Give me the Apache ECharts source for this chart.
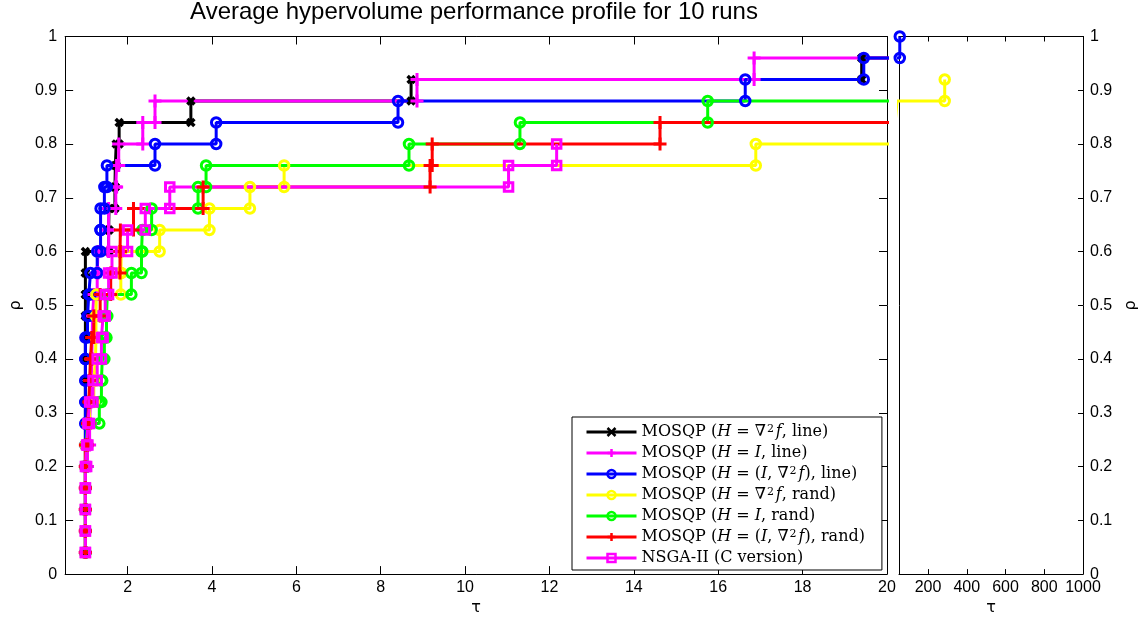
<!DOCTYPE html>
<html>
<head>
<meta charset="utf-8">
<title>Average hypervolume performance profile</title>
<script src="https://cdn.jsdelivr.net/npm/echarts@6/dist/echarts.min.js"></script>
<style>
  html, body { margin: 0; padding: 0; background: #fff; }
  #chart { width: 1142px; height: 621px; }
</style>
</head>
<body>
<div id="chart"></div>
<script>
// Number of test problems: each solved problem raises rho by 1/25.
const NP = 25;

// Sorted performance ratios tau per solver (problems never solved are left out).
// Values above 20 and below 50 fall in the gap between the two panels.
const tauHessLine = [1, 1, 1, 1, 1, 1, 1, 1, 1, 1, 1, 1, 1, 1, 1,
  1.55, 1.56, 1.70, 1.71, 1.73, 1.80, 3.50, 8.72, 19.40, 30];
const tauIdLine = [1, 1, 1, 1, 1, 1.05, 1.10, 1.12, 1.14, 1.15, 1.16, 1.17, 1.20,
  1.28, 1.30, 1.55, 1.55, 1.72, 1.74, 1.79, 2.36, 2.65, 8.86, 16.85, 30];
const tauMixLine = [1, 1, 1, 1, 1, 1, 1, 1, 1, 1, 1, 1.05, 1.08, 1.12, 1.28,
  1.36, 1.36, 1.45, 1.51, 2.65, 4.10, 8.41, 16.64, 19.45, 54];
const tauHessRand = [1, 1, 1, 1, 1, 1, 1.05, 1.10, 1.20, 1.24, 1.25, 1.25, 1.26,
  1.84, 1.85, 2.76, 3.94, 4.90, 5.71, 16.89, 30, 40, 286];
const tauIdRand = [1, 1, 1, 1, 1, 1.02, 1.05, 1.33, 1.38, 1.40, 1.45, 1.50, 1.52,
  2.09, 2.33, 2.35, 2.57, 3.67, 3.86, 8.67, 11.30, 15.75, 30];
const tauMixRand = [1, 1, 1, 1, 1, 1, 1.05, 1.08, 1.10, 1.12, 1.15, 1.20, 1.35,
  1.60, 1.82, 1.83, 2.14, 3.79, 9.17, 9.22, 14.62, 30];
const tauNsga = [1, 1, 1, 1, 1, 1.03, 1.06, 1.10, 1.18, 1.28, 1.38, 1.42, 1.47,
  1.55, 1.63, 2.00, 2.42, 3.00, 11.03, 12.17];

const solverNames = [
  'MOSQP (H=∇²f, line)',
  'MOSQP (H=I, line)',
  'MOSQP (H=(I,∇²f), line)',
  'MOSQP (H=∇²f, rand)',
  'MOSQP (H=I, rand)',
  'MOSQP (H=(I,∇²f), rand)',
  'NSGA-II (C version)'
];
// Legend text with italic math symbols and a raised exponent.
const legendLabels = [
  'MOSQP ({i|H} = ∇{sup|2}{i|f}, line)',
  'MOSQP ({i|H} = {i|I}, line)',
  'MOSQP ({i|H} = ({i|I}, ∇{sup|2}{i|f}), line)',
  'MOSQP ({i|H} = ∇{sup|2}{i|f}, rand)',
  'MOSQP ({i|H} = {i|I}, rand)',
  'MOSQP ({i|H} = ({i|I}, ∇{sup|2}{i|f}), rand)',
  'NSGA-II (C version)'
];
const solverTaus = [tauHessLine, tauIdLine, tauMixLine, tauHessRand, tauIdRand, tauMixRand, tauNsga];

// Axis tick values.
const leftTauTicks = [2, 4, 6, 8, 10, 12, 14, 16, 18, 20];
const rightTauTicks = [200, 400, 600, 800, 1000];

// Marker shapes
const SYM_X = 'path://M0,0L10,10M10,0L0,10';
const SYM_PLUS = 'path://M0,5L10,5M5,0L5,10';
const styles = [
  { color: '#000000', symbol: SYM_X, size: 7, bw: 3.5 },
  { color: '#ff00ff', symbol: SYM_PLUS, size: 13, bw: 3 },
  { color: '#0000ff', symbol: 'circle', size: 9.5, bw: 3 },
  { color: '#ffff00', symbol: 'circle', size: 9.5, bw: 3 },
  { color: '#00ff00', symbol: 'circle', size: 9.5, bw: 3 },
  { color: '#ff0000', symbol: SYM_PLUS, size: 13, bw: 3 },
  { color: '#ff00ff', symbol: 'rect', size: 8.5, bw: 3 }
];

// Stair-step vertices of a performance profile: at each ratio the curve
// rises from (k-1)/NP to k/NP; markers sit on every corner.
function stairPoints(taus) {
  const pts = [];
  taus.forEach((t, i) => {
    if (i > 0) pts.push([t, i / NP]);
    pts.push([t, (i + 1) / NP]);
  });
  return pts;
}

const tickFont = { fontFamily: 'Liberation Sans, Arial, sans-serif', fontSize: 16, color: '#000' };
const blackLine = { show: true, onZero: false, lineStyle: { color: '#000', width: 1 } };
const plainNumber = v => String(v);

const series = [];
solverTaus.forEach((taus, si) => {
  const st = styles[si];
  const pts = stairPoints(taus);
  [0, 1].forEach(panel => {
    series.push({
      type: 'line',
      name: solverNames[si],
      xAxisIndex: panel === 0 ? 0 : 2,
      yAxisIndex: panel === 0 ? 0 : 2,
      data: pts,
      clip: true,
      showSymbol: true,
      showAllSymbol: true,
      symbol: st.symbol,
      symbolSize: st.size,
      lineStyle: { color: st.color, width: 3 },
      itemStyle: { color: 'transparent', borderColor: st.color, borderWidth: st.bw },
      emphasis: { disabled: true },
      silent: true,
      animation: false
    });
  });
});

const chart = echarts.init(document.getElementById('chart'), null, { renderer: 'canvas' });
chart.setOption({
  backgroundColor: '#fff',
  animation: false,
  title: {
    text: 'Average hypervolume performance profile for 10 runs',
    left: 474,
    textAlign: 'center',
    top: 0,
    padding: 0,
    textStyle: { fontFamily: 'Liberation Sans, Arial, sans-serif', fontSize: 24, fontWeight: 'normal', color: '#000' }
  },
  grid: [
    { left: 62, top: 36.5, width: 825, height: 542 },
    { left: 899, top: 36.5, width: 184, height: 542 }
  ],
  xAxis: [
    {
      gridIndex: 0, type: 'value', position: 'bottom', min: 0.52, max: 20,
      axisLine: blackLine,
      axisTick: { show: true, inside: true, length: 8, customValues: leftTauTicks, lineStyle: { color: '#000' } },
      axisLabel: Object.assign({ customValues: leftTauTicks, margin: 5, formatter: plainNumber }, tickFont),
      splitLine: { show: false },
      name: 'τ', nameLocation: 'middle', nameGap: 24,
      nameTextStyle: { fontFamily: 'DejaVu Sans, sans-serif', fontSize: 16, color: '#000' }
    },
    {
      gridIndex: 0, type: 'value', position: 'top', min: 0.52, max: 20,
      axisLine: blackLine,
      axisTick: { show: true, inside: true, length: 8, customValues: leftTauTicks, lineStyle: { color: '#000' } },
      axisLabel: { show: false },
      splitLine: { show: false }
    },
    {
      gridIndex: 1, type: 'value', position: 'bottom', min: 50, max: 1000,
      axisLine: blackLine,
      axisTick: { show: true, inside: true, length: 5, customValues: rightTauTicks, lineStyle: { color: '#000' } },
      axisLabel: Object.assign({ customValues: rightTauTicks, margin: 5, formatter: plainNumber }, tickFont),
      splitLine: { show: false },
      name: 'τ', nameLocation: 'middle', nameGap: 24,
      nameTextStyle: { fontFamily: 'DejaVu Sans, sans-serif', fontSize: 16, color: '#000' }
    },
    {
      gridIndex: 1, type: 'value', position: 'top', min: 50, max: 1000,
      axisLine: blackLine,
      axisTick: { show: true, inside: true, length: 5, customValues: rightTauTicks, lineStyle: { color: '#000' } },
      axisLabel: { show: false },
      splitLine: { show: false }
    }
  ],
  yAxis: [
    {
      gridIndex: 0, type: 'value', position: 'left', min: 0, max: 1, interval: 0.1,
      axisLine: blackLine,
      axisTick: { show: true, inside: true, length: 8, lineStyle: { color: '#000' } },
      axisLabel: Object.assign({ margin: 8 }, tickFont),
      splitLine: { show: false },
      name: 'ρ', nameLocation: 'middle', nameGap: 36, nameRotate: 90,
      nameTextStyle: { fontFamily: 'DejaVu Sans, sans-serif', fontSize: 16, color: '#000' }
    },
    {
      gridIndex: 0, type: 'value', position: 'right', min: 0, max: 1, interval: 0.1,
      axisLine: blackLine,
      axisTick: { show: true, inside: true, length: 8, lineStyle: { color: '#000' } },
      axisLabel: { show: false },
      splitLine: { show: false }
    },
    {
      gridIndex: 1, type: 'value', position: 'right', min: 0, max: 1, interval: 0.1,
      axisLine: blackLine,
      axisTick: { show: true, inside: true, length: 5, lineStyle: { color: '#000' } },
      axisLabel: Object.assign({ margin: 7 }, tickFont),
      splitLine: { show: false },
      name: 'ρ', nameLocation: 'middle', nameGap: 40, nameRotate: 90,
      nameTextStyle: { fontFamily: 'DejaVu Sans, sans-serif', fontSize: 16, color: '#000' }
    },
    {
      gridIndex: 1, type: 'value', position: 'left', min: 0, max: 1, interval: 0.1,
      axisLine: blackLine,
      axisTick: { show: false },
      axisLabel: { show: false },
      splitLine: { show: false }
    }
  ],
  legend: {
    data: solverNames,
    orient: 'vertical',
    left: 572,
    top: 417,
    padding: [7, 17, 4, 13],
    itemWidth: 50,
    itemHeight: 10,
    itemGap: 5,
    backgroundColor: '#fff',
    borderColor: '#000',
    borderWidth: 1,
    borderRadius: 0,
    selectedMode: false,
    lineStyle: { width: 3 },
    itemStyle: { borderWidth: 2.5 },
    formatter: name => legendLabels[solverNames.indexOf(name)],
    textStyle: {
      fontFamily: 'DejaVu Serif, serif',
      fontSize: 16,
      lineHeight: 16,
      color: '#000',
      rich: {
        i: { fontFamily: 'DejaVu Serif, serif', fontStyle: 'italic', fontSize: 16, lineHeight: 16, color: '#000' },
        sup: { fontFamily: 'DejaVu Serif, serif', fontSize: 11, lineHeight: 16, verticalAlign: 'top', color: '#000', padding: [0, 2, 0, 1] }
      }
    }
  },
  series: series
});
</script>
</body>
</html>
